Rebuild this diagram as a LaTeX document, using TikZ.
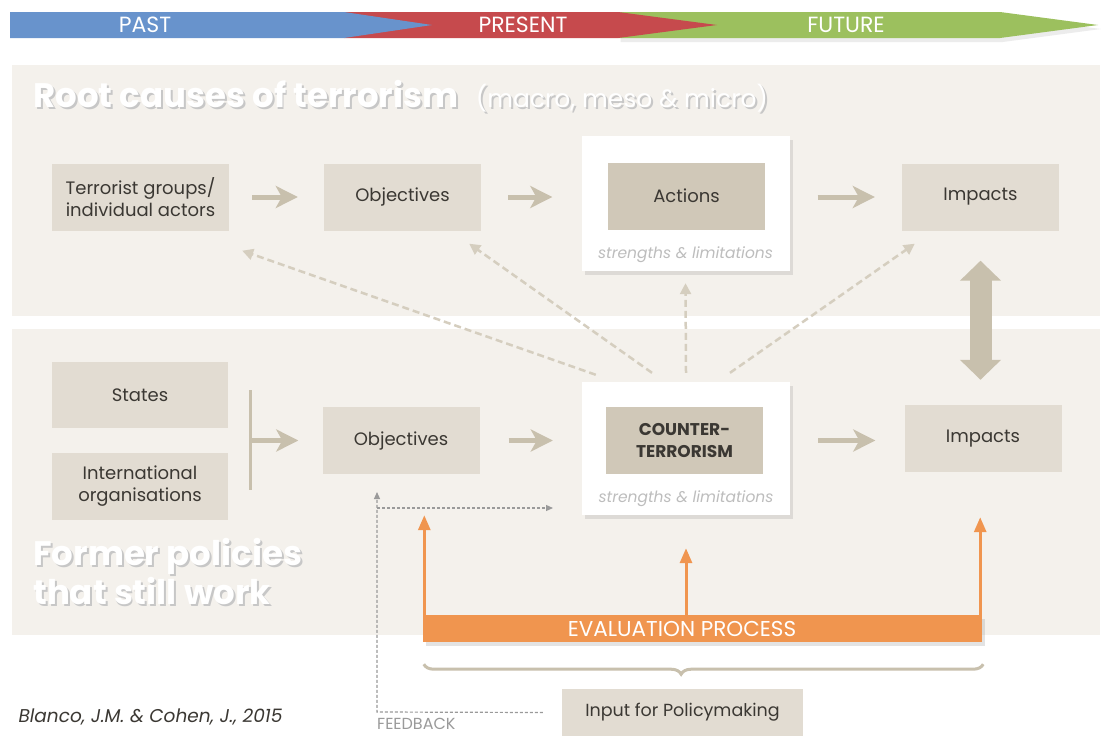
\documentclass[tikz,border=0pt]{standalone}
\usepackage{fontspec}
\setmainfont{Poppins}
\usetikzlibrary{arrows.meta,shadows,decorations.pathreplacing,calc}

\definecolor{panelbg}{HTML}{F4F1EC}
\definecolor{boxbg}{HTML}{E2DCD2}
\definecolor{boxdark}{HTML}{D0C8B8}
\definecolor{arrowbeige}{HTML}{C8C0AD}
\definecolor{dashbeige}{HTML}{D5CEBF}
\definecolor{evalorange}{HTML}{F0954F}
\definecolor{pastblue}{HTML}{6893CC}
\definecolor{presentred}{HTML}{C64A4D}
\definecolor{futuregreen}{HTML}{9CC05E}
\definecolor{boxtext}{HTML}{3B3833}
\definecolor{softgray}{HTML}{BDBDBD}
\definecolor{feedgray}{HTML}{9A9A9A}

% white heading text with a soft shadow behind it
\newcommand{\shadowtext}[1]{\makebox[0pt][l]{\hspace{2pt}\raisebox{-2pt}{\color{black!22}#1}}#1}

\begin{document}
\begin{tikzpicture}[x=1pt,y=-1pt,
    actorbox/.style={fill=boxbg,minimum width=157pt,minimum height=67pt,inner sep=2pt,align=center,text=boxtext,font=\fontsize{18}{22}\selectfont},
    corebox/.style={actorbox,fill=boxdark},
    whitecard/.style={fill=white,minimum width=208pt,minimum height=135pt,drop shadow={shadow xshift=3pt,shadow yshift=-4pt,opacity=0.22,fill=black!45}},
    notetext/.style={text=softgray,font=\itshape\fontsize{15.5}{17}\selectfont},
    flowarrow/.style={draw=arrowbeige,line width=5pt,-{Stealth[length=22pt,width=22pt,inset=6pt]}},
    dasharrow/.style={draw=dashbeige,line width=2.5pt,dash pattern=on 7pt off 4pt,-{Triangle[length=11pt,width=11pt]}},
    bigdouble/.style={draw=arrowbeige,line width=22pt,{Triangle[length=20pt,width=40pt]}-{Triangle[length=20pt,width=40pt]}},
    evalarrow/.style={draw=evalorange,line width=3pt,-{Triangle[length=15pt,width=12pt]}},
    feedline/.style={draw=feedgray,line width=1.2pt,dash pattern=on 3pt off 2pt},
    headtext/.style={text=white,font=\bfseries\fontsize{34}{39}\selectfont,align=left,inner sep=0pt},
    bartext/.style={text=white,font=\fontsize{22}{24}\selectfont}]

    \useasboundingbox (0,0) rectangle (1102,736);
    \fill[white] (0,0) rectangle (1102,736);

    % time line
    \fill[futuregreen,drop shadow={shadow yshift=-4pt,opacity=0.15}] (618,12) -- (1000,12) -- (1098,25) -- (1000,38) -- (618,38) -- cycle;
    \fill[presentred] (344,12) -- (618,12) -- (717,25) -- (618,38) -- (344,38) -- cycle;
    \fill[pastblue] (10,12) -- (344,12) -- (432,25) -- (344,38) -- (10,38) -- cycle;
    \node[bartext] (past) at (145,25) {PAST};
    \node[bartext] (present) at (523,25) {PRESENT};
    \node[bartext] (future) at (846,25) {FUTURE};

    % the two panels
    \fill[panelbg] (12,65) rectangle (1100,316);
    \fill[panelbg] (12,329) rectangle (1100,635);
    \node[headtext,anchor=base west] (roottitle) at (33,107) {\shadowtext{Root causes of terrorism}};
    \node[headtext,anchor=base west,font=\fontsize{25}{28}\selectfont] (rootnote) at ([xshift=17pt]roottitle.base east) {\shadowtext{(macro, meso \& micro)}};
    \node[headtext,anchor=north west] (formertitle) at (33,538) {\shadowtext{Former policies}\\\shadowtext{that still work}};

    % root causes row
    \node[actorbox,minimum width=177pt] (groups) at (140.5,197) {Terrorist groups/\\individual actors};
    \node[actorbox] (obj1) at (402.5,197) {Objectives};
    \node[whitecard] (actcard) at (685.5,203.5) {};
    \node[corebox] (actions) at (686.5,196) {Actions};
    \node[notetext] (actnote) at (685.5,255) {strengths \& limitations};
    \node[actorbox] (imp1) at (980.5,197) {Impacts};

    % former policies row
    \node[actorbox,minimum width=176pt,minimum height=66pt] (states) at (140,395) {States};
    \node[actorbox,minimum width=176pt] (intorg) at (140,486.5) {International\\organisations};
    \node[actorbox] (obj2) at (401,440.5) {Objectives};
    \node[whitecard,minimum height=133pt] (ctcard) at (686,448.5) {};
    \node[corebox,font=\bfseries\fontsize{17}{22}\selectfont] (counter) at (684.5,440.5) {COUNTER-\\TERRORISM};
    \node[notetext] (ctnote) at (686,499) {strengths \& limitations};
    \node[actorbox] (imp2) at (983,438.5) {Impacts};

    % flow arrows
    \draw[flowarrow] ($(groups.east)+(23,0)$) -- ($(obj1.west)+(-26,0)$);
    \draw[flowarrow] ($(obj1.east)+(27,0)$) -- ($(actcard.west |- obj1.east)+(-29,0)$);
    \draw[flowarrow] ($(actcard.east |- imp1.west)+(28,0)$) -- ($(imp1.west)+(-27,0)$);
    \coordinate (jointop) at (250,390);
    \coordinate (joinbot) at (250,490);
    \draw[arrowbeige,line width=3pt] (jointop) -- (joinbot);
    \draw[flowarrow] (jointop |- obj2.west) -- ($(obj2.west)+(-24,0)$);
    \draw[flowarrow] ($(obj2.east)+(29,0)$) -- ($(ctcard.west |- obj2.east)+(-29,0)$);
    \draw[flowarrow] ($(ctcard.east |- obj2.east)+(28,0)$) -- ($(imp2.west |- obj2.east)+(-29,0)$);
    \draw[bigdouble] ($(imp1.south)+(0,30)$) -- ($(imp1.south |- imp2.north)+(0,-25)$);

    % counter-terrorism acts on the root causes
    \draw[dasharrow] ($(ctcard.north west)+(14,-7)$) -- ($(groups.south east)+(13,20)$);
    \draw[dasharrow] ($(ctcard.north)+(-34,-9)$) -- ($(obj1.south east)+(-12,13)$);
    \draw[dasharrow] ($(ctcard.north)+(0,-9)$) -- ($(actcard.south)+(0,12)$);
    \draw[dasharrow] ($(ctcard.north)+(44,-9)$) -- ($(imp1.south west)+(13,13)$);

    % evaluation
    \node[fill=evalorange,minimum width=559pt,minimum height=27pt,inner sep=0pt,text=white,font=\fontsize{21.5}{23}\selectfont,drop shadow={shadow xshift=3pt,shadow yshift=-4pt,opacity=0.22}] (eval) at (702.5,628.5) {\hspace*{-41pt}EVALUATION PROCESS};
    \draw[evalarrow] ($(eval.north west)+(1.5,0)$) -- ($(eval.north west |- ctcard.south)+(1.5,0)$);
    \draw[evalarrow] (ctcard.south |- eval.north) -- ($(ctcard.south)+(0,33)$);
    \draw[evalarrow] ($(eval.north east)+(-2,0)$) -- ($(eval.north east |- imp2.south)+(-2,45)$);
    \draw[arrowbeige,line width=3pt,decorate,decoration={brace,mirror,amplitude=10pt,aspect=0.46}] ($(eval.south west)+(1,22)$) -- ($(eval.south east)+(1,22)$);

    % policymaking and feedback
    \node[actorbox,minimum width=241pt,minimum height=47pt,font=\fontsize{17.5}{19}\selectfont] (input) at (682.5,712.5) {Input for Policymaking};
    \coordinate (fbstart) at ($(input.west)+(-19,0)$);
    \coordinate (fbcorner) at (377,712);
    \coordinate (fbtop) at (377,492);
    \coordinate (fbbranch) at (377,508);
    \coordinate (fbend) at (553,508);
    \draw[feedline,-{Triangle[length=7pt,width=6pt]}] (fbstart) -- (fbcorner) -- (fbtop);
    \draw[feedline,-{Triangle[length=7pt,width=6pt]}] (fbbranch) -- (fbend);
    \node[text=feedgray,font=\fontsize{16}{17}\selectfont,anchor=west,inner sep=0pt] (feedback) at (377,724) {FEEDBACK};

    \node[text=boxtext,font=\itshape\fontsize{18.5}{20}\selectfont,anchor=west] (source) at (15,717) {Blanco, J.M. \& Cohen, J., 2015};
\end{tikzpicture}
\end{document}
